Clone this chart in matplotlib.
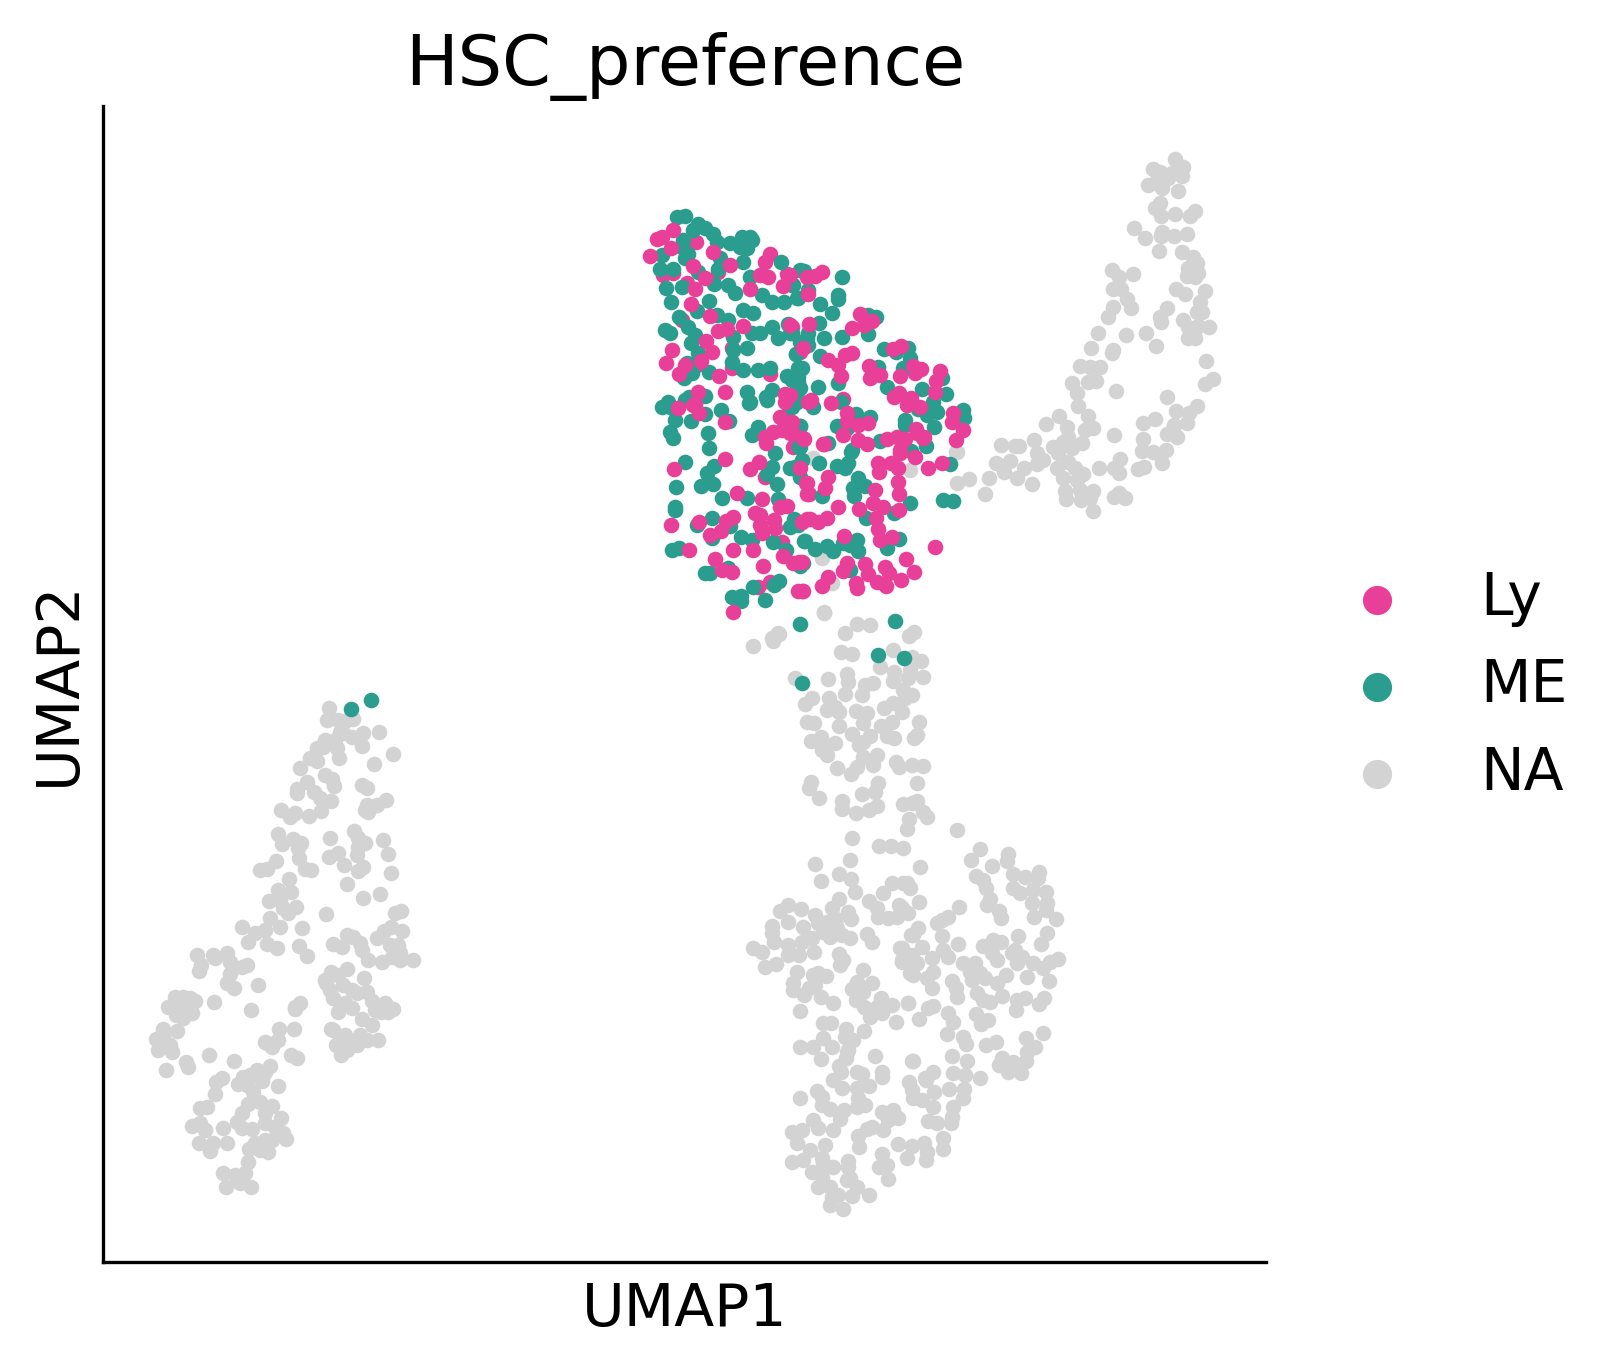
import matplotlib
matplotlib.use("Agg")
import matplotlib.pyplot as plt
import numpy as np

# embedding coordinates per group, y axis runs downwards
na_left = [(197,955),(201,965),(199,971),(213,955),(215,958),(227,953),(230,962),(230,974),(227,983),(234,988),(242,967),(247,965),(258,985),(251,1010),(214,1002),
    (175,997),(183,997),(190,998),(195,1001),(168,1007),(177,1008),(183,1005),(190,1008),(192,1013),(183,1018),(176,1015),(163,1029),(177,1031),(156,1039),(163,1037),(170,1045),(158,1050),(172,1052),(186,1062),(188,1067),(166,1070),(209,1055),(234,1061),
    (222,1078),(216,1082),(215,1094),(207,1107),(200,1108),(192,1126),(200,1123),(205,1130),(223,1128),(199,1143),(213,1143),(210,1151),(227,1143),
    (238,1084),(243,1077),(250,1075),(257,1070),(265,1072),(262,1081),(247,1085),(253,1092),(270,1066),(278,1086),
    (248,1104),(260,1102),(272,1106),(265,1113),(242,1113),(237,1122),(242,1128),(252,1129),(265,1123),(275,1127),(281,1118),(283,1133),(286,1139),
    (255,1143),(265,1140),(272,1140),(268,1152),(260,1150),(249,1149),(248,1162),(223,1173),(235,1175),(245,1173),(226,1187),(240,1183),(251,1187),
    (279,1029),(294,1029),(278,1040),(267,1043),(265,1042),(272,1047),(291,1055),(297,1058),(295,1007),
    (329,708),(327,720),(338,720),(347,720),(353,719),(363,733),(379,732),(362,746),(393,754),(374,764),
    (340,732),(325,740),(335,740),(352,737),(343,733),(317,748),(323,747),(337,748),(339,758),(310,758),(317,761),(300,768),
    (325,775),(332,779),(334,786),(307,782),(297,789),(297,793),(314,792),(320,798),(331,801),(362,785),(367,788),(367,805),(365,810),(368,812),(377,805),(386,800),
    (321,811),(309,816),(281,810),(290,817),(295,813),(278,834),(282,844),(293,839),(301,843),(298,848),(299,858),(305,869),(311,870),
    (330,838),(354,831),(358,838),(365,843),(358,847),(357,855),(338,853),(329,857),(344,865),(383,840),(388,854),(391,873),(363,867),(358,871),(347,884),(363,898),(380,894),
    (276,861),(267,869),(260,870),(289,879),(278,890),(291,892),(269,901),(280,900),(283,908),(288,913),(296,907),(326,914),(395,913),(401,911),
    (270,918),(280,927),(265,930),(255,933),(242,927),(248,942),(267,944),(277,948),(302,928),(299,946),(307,956),
    (333,944),(342,947),(347,935),(353,937),(360,943),(362,950),(377,938),(384,931),(391,927),(402,931),(390,945),(400,953),(392,957),(368,960),(382,962),(413,960),
    (331,972),(347,969),(364,978),(326,983),(333,998),(357,993),(372,1001),(393,1009),(381,1012),(362,1019),(331,1029),(336,1045),(341,1055),(357,1045),(367,1040),(347,1050),(378,1040),(388,1012),(300,1003),
    (295,1009),(325,980),(338,975),(343,985),(330,990),(352,990),(367,992),(345,1003),(338,1012),(352,1008),(375,1010),(385,1003),(400,960),(398,945),(345,1035),(340,1040),(350,1042),(360,1035),(372,1025),(345,1048),(333,1030)]

na_right = [(1175,159),(1153,169),(1183,167),(1160,172),(1172,173),(1182,176),(1168,178),(1148,185),(1155,183),(1162,188),(1178,191),(1160,203),(1155,208),(1161,216),(1175,214),(1195,211),(1190,216),
    (1134,228),(1145,238),(1162,232),(1161,236),(1174,236),(1187,234),(1159,251),(1182,252),(1193,257),(1197,263),(1198,273),(1188,268),(1187,276),(1195,277),
    (1176,289),(1185,294),(1205,291),(1200,302),(1197,312),(1202,312),(1183,320),(1188,327),(1198,326),(1209,327),(1188,338),(1195,338),(1167,308),(1160,317),(1161,322),(1146,333),(1156,346),
    (1112,270),(1119,277),(1133,274),(1113,289),(1121,289),(1127,299),(1131,308),(1113,307),(1108,317),(1098,333),(1126,335),(1091,348),(1113,350),(1112,353),
    (1080,366),(1090,367),(1100,367),(1072,383),(1077,393),(1088,382),(1096,381),(1116,391),(1206,361),(1213,379),(1205,384),(1167,397),(1197,406),(1176,411),(1189,413),(1187,423),(1155,419),(1143,423),
    (1174,425),(1167,434),(1177,437),(1173,430),(1143,439),(1142,451),(1153,452),(1160,455),(1166,450),(1162,463),(1138,469),(1144,467),(1120,459),(1114,468),(1119,473),(1099,468),(1114,435),(1119,493),(1114,497),(1125,498),
    (1078,406),(1088,416),(1093,428),(1085,430),(1082,443),(1059,416),(1046,424),(1067,427),(1068,437),(1063,442),(1053,447),(1058,453),(1072,448),(1034,440),(1037,453),(1043,460),(1037,464),
    (1001,445),(1015,446),(1019,446),(996,463),(1010,461),(1004,472),(1024,468),(1017,478),(1032,484),(1068,462),(1057,468),(1063,478),(1075,468),(1083,474),(1077,480),
    (1065,491),(1066,499),(1080,490),(1081,500),(1093,491),(1090,498),(1093,511),(989,478),(969,479),(957,483),(985,494),(956,452),(957,452)]

na_stem = [(813,458),(910,470),(822,558),(832,583),(824,612),(824,613),(753,646),(773,641),(779,634),(845,633),(857,624),(870,625),(909,636),(914,632),(841,652),(852,654),(893,650),(880,667),(912,657),(921,661),(795,678),(828,679),(847,674),(848,682),(865,685),(873,683),(862,695),(845,694),
    (894,672),(893,681),(910,670),(908,678),(923,677),(903,690),(912,695),(905,698),(812,698),(805,704),(829,698),(827,710),(835,707),(839,712),(856,711),(867,713),(863,723),(884,708),(893,703),(902,712),
    (807,722),(814,723),(839,726),(881,726),(892,722),(919,722),(917,735),(914,738),(887,736),(894,738),(852,734),(870,736),(863,742),(859,745),(811,741),(821,737),(835,743),(820,743),(827,745),(822,750),(827,755),
    (837,768),(863,757),(877,755),(873,765),(857,767),(851,774),(896,762),(899,767),(912,765),(923,766),(917,783),(811,782),(809,788),(819,798),(878,783),(875,792),(862,794),(877,806),(869,810),(856,813),(842,801),(842,809),
    (903,804),(917,801),(912,803),(923,812),(927,817),(909,819),(907,829),(852,838),(879,846),(891,846),(903,848),(850,860),(815,864),(920,867),(839,874),(851,879),(821,881)]

na_bottom = [(855,892),(839,899),(832,908),(848,912),(851,919),(780,911),(788,905),(801,909),(788,922),(772,926),(772,933),(774,942),(803,927),(815,915),(818,923),(827,922),(836,919),(823,932),(837,928),(830,937),(842,935),(850,938),
    (788,945),(788,955),(799,955),(802,942),(812,938),(814,952),(753,948),(762,952),(765,967),(776,964),(839,954),(843,960),(840,965),(867,934),(872,942),(869,901),(877,908),(878,917),(888,918),(883,893),(892,883),(903,883),(899,905),(897,917),(903,910),
    (797,972),(793,983),(793,990),(804,995),(809,988),(813,975),(818,973),(826,976),(815,985),(821,997),(833,1003),(800,1011),(863,970),(857,982),(872,983),(852,989),(863,992),(856,1000),(864,1007),(881,998),(877,1007),(892,1005),(870,1017),(882,1013),(896,1022),(908,1003),
    (823,1023),(831,1023),(846,1029),(845,1037),(853,1040),(864,1031),(823,1038),(800,1047),(813,1047),(832,1047),(848,1050),(900,948),(902,962),(910,957),(911,935),(910,973),
    (957,830),(980,849),(971,860),(1008,854),(1007,861),(992,866),(976,876),(983,880),(986,888),(990,899),(987,905),(999,911),(1001,918),(1013,874),(1025,877),(1039,872),(1038,878),(1013,888),(1020,893),(1033,890),(1046,892),(1047,903),(1032,903),(1034,917),(1046,910),(1056,919),(1047,933),(1041,944),
    (907,883),(910,888),(919,902),(908,913),(902,908),(959,907),(948,917),(942,920),(937,923),(942,936),(918,928),(913,935),(958,944),(943,950),(948,957),(922,947),(912,955),(932,958),(917,963),(913,975),(933,972),(927,978),(932,988),(902,948),(902,960),
    (1018,936),(983,946),(993,940),(1001,942),(992,953),(997,960),(1015,950),(1012,953),(1022,957),(1017,963),(1033,963),(1027,977),(1050,962),(1058,959),(1043,968),(1049,981),(1006,975),(963,963),(975,963),(970,972),(980,973),(972,980),(985,978),(997,983),(952,981),(956,988),(957,997),
    (977,993),(983,1000),(990,1002),(1002,996),(1025,998),(1017,1000),(1016,1010),(1044,998),(1039,1004),(908,1003),(919,1019),(933,1006),(928,1008),(948,1013),(953,1022),(947,1034),(976,1014),(988,1020),(981,1024),(963,1037),(966,1044),(986,1045),(996,1042),
    (1043,1033),(1026,1038),(1035,1047),(1027,1052),(1026,1061),(952,1056),(967,1061),(1002,1058),(1013,1062),(999,1065),(1008,1072),(1021,1073),(913,1061),(933,1072),(925,1078),(953,1073),(965,1075),(980,1078),
    (821,1059),(847,1052),(846,1058),(875,1056),(912,1061),(839,1066),(857,1072),(862,1074),(882,1072),(882,1077),(833,1080),(841,1072),(842,1088),(869,1086),(857,1088),(817,1091),(822,1097),(800,1098),(822,1105),(830,1109),(858,1098),(865,1105),(857,1107),(844,1110),(840,1119),(813,1120),(818,1128),(833,1130),
    (882,1112),(893,1110),(898,1118),(888,1120),(883,1130),(872,1127),(867,1129),(858,1136),(859,1147),(909,1082),(912,1090),(926,1080),(934,1092),(949,1089),(913,1098),(922,1100),(933,1107),(964,1089),(963,1098),(953,1107),(952,1117),(951,1123),(928,1121),(937,1123),(943,1138),(943,1149),
    (898,1144),(912,1146),(924,1143),(927,1152),(926,1160),(907,1158),(882,1154),(887,1165),(879,1167),(888,1179),(792,1132),(802,1130),(797,1143),(810,1150),(825,1145),(792,1162),(803,1160),(822,1158),(823,1163),(833,1167),(812,1172),(848,1161),(848,1167),
    (822,1177),(818,1187),(850,1178),(847,1180),(830,1187),(838,1195),(857,1187),(852,1196),(869,1195),(830,1205),(843,1209),(832,1197),(778,633),(772,638)]

# Ly cells drawn before ME
ly_under = [(696,242),(673,273),(663,275),(718,272),(770,254),(765,262),(682,320),(687,283),(697,365),(732,368),(770,374),(797,470),(765,477),(782,542),(758,587),(770,582),(792,327),(732,348),(787,274),(800,352),(843,399),(915,373),(809,494),(807,483),(793,447),(790,433),(788,420)]

me_points = [(677,217),(685,216),(698,224),(693,230),(705,228),(713,234),(683,240),(717,242),(682,247),(688,254),(685,258),(730,243),(742,237),(750,237),(752,240),(740,247),(747,248),(720,258),(743,262),(718,269),(781,262),(662,255),(660,269),(673,269),(698,272),(750,277),(714,284),(728,285),(735,293),(666,288),(682,287),(671,302),(709,301),(697,311),(743,310),(753,313),(762,295),(772,302),(784,302),(798,298),(793,285),(800,270),(679,317),(688,327),(717,315),(728,320),(665,330),(670,333),(695,335),(691,343),(733,337),(752,333),(760,333),(772,327),(788,324),(778,338),(790,333),(747,348),(698,353),(733,350),(732,362),(743,370),(758,370),(770,368),(796,354),(687,363),(709,372),(692,373),(684,378),(787,376),(798,368),(668,402),(689,397),(705,396),(685,400),(747,392),(750,402),(772,390),(766,397),(797,398),(800,342),(798,382),
    (804,271),(842,277),(808,290),(797,298),(792,285),(838,295),(838,299),(820,304),(832,313),(819,323),(876,317),(868,315),(868,334),(824,338),(842,337),(808,333),(807,338),(803,342),(808,345),(792,333),(884,349),(896,352),(908,348),(796,354),(820,356),(802,368),(798,377),(910,358),(903,368),(878,367),(838,383),(818,387),(800,388),(792,380),(942,378),(887,387),(922,389),(946,394),(813,407),(797,400),(792,407),(933,402),(841,402),(918,409),(937,412),(927,415),(856,414),(870,417),(963,410),(964,418),(837,426),(847,428),(905,420),(905,425),(934,427),(800,426),(880,441),(926,446),(828,443),(800,447),(852,450),(911,451),
    (662,407),(670,407),(675,420),(670,432),(673,438),(691,421),(705,414),(721,410),(729,421),(708,433),(709,448),(685,462),(714,466),(707,473),(676,487),(701,486),(713,484),(722,498),(747,498),(675,507),(675,510),(712,518),(697,525),(730,526),(712,538),(741,537),(752,540),(679,548),(672,550),(728,568),(705,573),(710,573),(753,587),(774,585),(779,581),(732,597),(741,596),(741,601),(765,600),(800,624),(749,403),(758,427),(752,435),(800,426),(775,453),(772,467),(767,474),(777,484),(778,499),(790,468),(795,467),(802,460),(799,447),(800,477),(794,519),(798,525),(790,527),(773,542),(786,550),(804,541),(800,566),(789,407),(797,402),(767,400),
    (851,452),(819,463),(837,466),(845,468),(848,463),(950,464),(858,478),(853,488),(865,486),(854,496),(822,496),(910,503),(894,513),(866,518),(899,539),(887,548),(805,541),(815,549),(827,546),(833,551),(843,543),(857,540),(858,551),(850,545),(850,570),(803,563),(895,621),(878,655),(904,658),(802,683),(943,500),(953,501),(351,709),(371,700)]

# Ly cells drawn after ME
ly_over = [(657,239),(662,237),(673,230),(671,248),(713,252),(650,256),(693,266),(705,278),(730,265),(760,275),(768,277),(783,286),(750,289),(695,289),(691,304),(710,316),(743,326),(718,331),(727,329),(706,341),(672,350),(712,352),(666,363),(701,361),(685,365),(679,374),(719,376),(725,392),(698,392),(785,394),(695,404),
    (822,272),(815,276),(807,277),(790,275),(808,294),(809,324),(790,325),(860,314),(872,321),(864,325),(852,328),(901,346),(893,349),(803,348),(852,353),(845,355),(828,360),(838,365),(841,376),(869,366),(870,378),(880,375),(913,366),(921,369),(900,376),(940,371),(936,381),(935,392),(899,393),(894,397),(911,398),(907,405),(920,407),(831,403),(811,400),(790,395),(953,413),(952,422),(847,413),(847,421),(858,425),(868,423),(963,430),(956,440),(916,429),(923,438),(843,435),(804,439),(792,422),(793,433),(823,444),(858,440),(867,444),(887,439),(897,437),(905,439),(900,450),
    (678,408),(693,405),(699,413),(725,422),(674,469),(725,459),(671,525),(699,522),(689,550),(737,493),(762,499),(755,513),(760,515),(774,520),(775,528),(760,525),(762,533),(733,517),(726,521),(721,531),(710,535),(733,550),(753,550),(715,559),(722,570),(732,572),(763,566),(783,556),(799,562),(793,563),(733,612),(798,591),(802,591),(780,417),(773,432),(765,437),(766,443),(782,430),(803,438),(750,469),(759,462),(806,483),(807,494),(787,506),(780,507),(807,519),(785,402),(808,402),
    (824,444),(917,433),(924,437),(900,453),(915,457),(878,463),(879,472),(891,463),(898,468),(928,468),(942,463),(828,477),(825,488),(898,482),(899,494),(875,490),(838,507),(859,509),(873,503),(883,507),(899,510),(800,468),(876,518),(878,529),(880,540),(892,537),(810,519),(818,522),(827,518),(802,522),(844,536),(935,547),(906,559),(914,572),(865,564),(868,574),(877,582),(886,586),(885,567),(889,573),(901,580),(847,563),(843,571),(856,583),(857,588),(828,577),(822,586),(803,591),(802,562)]

groups = ["Ly", "ME", "NA"]
colors = {"Ly": "#E83F98", "ME": "#2A9D8F", "NA": "#D3D3D3"}

plt.rcParams["font.size"] = 14
fig = plt.figure(figsize=(1622 / 300, 1366 / 300), dpi=300)
ax = fig.add_axes([103.5 / 1622, 1 - 1262 / 1366, (1266 - 103.5) / 1622, (1262 - 105.5) / 1366])

na_points = np.array(na_left + na_right + na_stem + na_bottom)
layers = [(na_points, "NA"), (np.array(ly_under), "Ly"), (np.array(me_points), "ME"), (np.array(ly_over), "Ly")]
for pts, grp in layers:
    ax.scatter(pts[:, 0], pts[:, 1], s=14, c=colors[grp], linewidths=0)

# empty scatters just for the legend entries
for grp in groups:
    ax.scatter([], [], s=49, c=colors[grp], linewidths=0, label=grp)

ax.set_xlim(103.5, 1266)
ax.set_ylim(1262, 105.5)
ax.set_xticks([])
ax.set_yticks([])
ax.spines["top"].set_visible(False)
ax.spines["right"].set_visible(False)
ax.set_xlabel("UMAP1", labelpad=4.5)
ax.set_ylabel("UMAP2")
ax.set_title("HSC_preference", fontsize="large", pad=5)
ax.legend(loc="center left", bbox_to_anchor=(1, 0.4983), frameon=False, scatterpoints=1,
          labelspacing=0.52, handletextpad=0.78)

fig.savefig("out.png", dpi=300)
